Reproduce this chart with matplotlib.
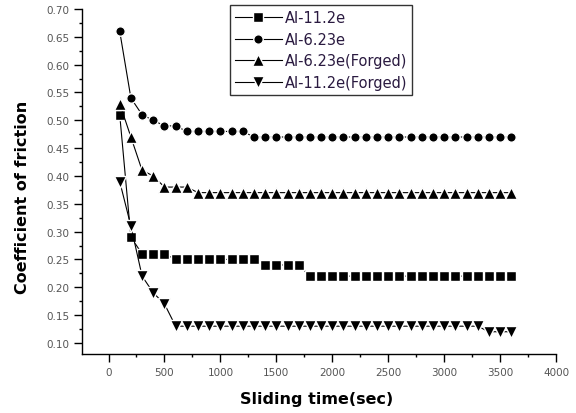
import numpy as np
import matplotlib.pyplot as plt
from matplotlib.ticker import MultipleLocator

# ============================================================
# data
# ============================================================
time_s = list(range(100, 3700, 100))  # 100 .. 3600 sec

al_11_2e = [0.51, 0.29, 0.26, 0.26, 0.26] + [0.25] * 8 + [0.24] * 4 + [0.22] * 19
al_6_23e = [0.66, 0.54, 0.51, 0.50, 0.49, 0.49] + [0.48] * 6 + [0.47] * 24
al_6_23e_forged = [0.53, 0.47, 0.41, 0.40, 0.38, 0.38, 0.38] + [0.37] * 29
al_11_2e_forged = [0.39, 0.31, 0.22, 0.19, 0.17] + [0.13] * 28 + [0.12] * 3

series = [
    ('Al-11.2e', al_11_2e, 's', 6.6),
    ('Al-6.23e', al_6_23e, 'o', 6.8),
    ('Al-6.23e(Forged)', al_6_23e_forged, '^', 8.0),
    ('Al-11.2e(Forged)', al_11_2e_forged, 'v', 8.0),
]

x_ticks = [0, 500, 1000, 1500, 2000, 2500, 3000, 3500, 4000]
y_ticks = [0.10, 0.15, 0.20, 0.25, 0.30, 0.35, 0.40, 0.45, 0.50, 0.55, 0.60, 0.65, 0.70]

# ============================================================
# style
# ============================================================
plt.rcParams['font.family'] = ['DejaVu Sans']

fig = plt.figure(figsize=(5.76, 4.14), dpi=100)
ax = fig.add_axes([0.1418, 0.1425, 0.8235, 0.8333])

# thin white marker edge imitates Origin's small gap between line and symbol
for label, vals, mk, ms in series:
    ax.plot(time_s, vals, color='black', linewidth=0.8, marker=mk,
            markersize=ms, markeredgewidth=1.0, markeredgecolor='white',
            markerfacecolor='black', label=label)

ax.set_xlim(-240, 4000)
ax.set_ylim(0.08, 0.70)
ax.set_xticks(x_ticks)
ax.set_yticks(y_ticks)
ax.set_xticklabels([str(v) for v in x_ticks])
ax.set_yticklabels([f'{v:.2f}' for v in y_ticks])
ax.xaxis.set_minor_locator(MultipleLocator(250))
ax.yaxis.set_minor_locator(MultipleLocator(0.025))

for side in ['top', 'right']:
    ax.spines[side].set_visible(False)
for side in ['left', 'bottom']:
    ax.spines[side].set_linewidth(1.0)

ax.tick_params(which='major', direction='out', length=5.5, width=1.0,
               labelsize=7.5, labelcolor='#555555', pad=3.5)
ax.tick_params(which='minor', direction='out', length=2.5, width=1.0)

ax.set_xlabel('Sliding time(sec)', fontsize=11.5, fontweight='bold')
ax.set_ylabel('Coefficient of friction', fontsize=11.5, fontweight='bold')
# label centres (pixel positions -> axes fraction)
ax.xaxis.set_label_coords((317 - 81.7) / 474.3, (355 - 399) / 345)
ax.yaxis.set_label_coords((23 - 81.7) / 474.3, (355 - 197) / 345)
ax.xaxis.label.set_va('center')
ax.yaxis.label.set_va('center')

leg = ax.legend(loc='upper left', bbox_to_anchor=(230 / 576, 1 - 6 / 414),
                bbox_transform=fig.transFigure, fontsize=10.5, frameon=True,
                fancybox=False, edgecolor='black', handlelength=3.2,
                handletextpad=0.2, borderpad=0.35, labelspacing=0.45,
                borderaxespad=0)
leg.get_frame().set_linewidth(1.0)
for t in leg.get_texts():
    t.set_color('#2a1a40')

fig.savefig('out.png', dpi=100, facecolor='white')
